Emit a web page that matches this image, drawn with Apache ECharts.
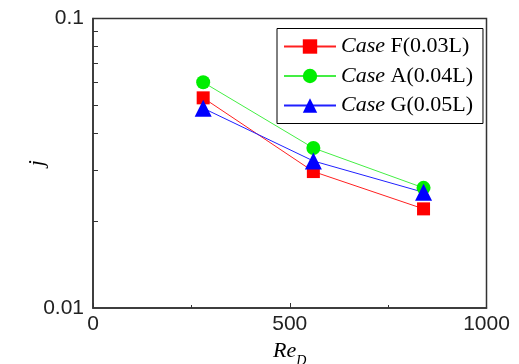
<!DOCTYPE html>
<html><head><meta charset="utf-8">
<script src="https://cdn.jsdelivr.net/npm/echarts@6/dist/echarts.min.js"></script>
<style>html,body{margin:0;padding:0;background:#fff}#c{width:519px;height:364px}</style>
</head><body><div id="c"></div>
<script>
var reD = [280, 560, 840];
var caseF = [0.0532, 0.0296, 0.0220];
var caseA = [0.0602, 0.0357, 0.0260];
var caseG = [0.0490, 0.0322, 0.0251];
var seriesNames = ['Case F(0.03L)', 'Case A(0.04L)', 'Case G(0.05L)'];
var yMinorTicks = [0.02,0.03,0.04,0.05,0.06,0.07,0.08,0.09];
var yLabels = [0.01, 0.1];
var xLabels = [0, 500, 1000];

function pts(arr){ return reD.map(function(x,i){return [x, arr[i]];}); }
var chart = echarts.init(document.getElementById('c'));
var serif = 'Liberation Serif';
var sans = 'Liberation Sans';
function mk(name, data, color, lineColor, symbol, size){
  return {name:name, type:'line', data:pts(data), symbol:symbol, symbolSize:size,
    lineStyle:{color:lineColor, width:1}, itemStyle:{color:color}, animation:false};
}
chart.setOption({
  animation:false,
  grid:{left:93, right:32.5, top:18.5, bottom:56, show:true, borderColor:'#333', borderWidth:1.5,
    backgroundColor:'transparent', containLabel:false, outerBoundsMode:'none'},
  legend:{
    orient:'vertical', left:277, top:28.5,
    padding:[7,10,7,6], itemGap:7.5, itemWidth:52, itemHeight:18,
    borderColor:'#000', borderWidth:1, backgroundColor:'#fff',
    data:seriesNames,
    formatter:function(n){ var p=n.split(' '); return '{i|'+p[0]+'} '+p.slice(1).join(' '); },
    textStyle:{fontFamily:serif, fontSize:22, color:'#000', lineHeight:21,
      rich:{i:{fontFamily:serif, fontStyle:'italic', fontSize:22, color:'#000', lineHeight:21}}}
  },
  xAxis:{type:'value', min:0, max:1000, interval:500,
    axisLine:{show:true, lineStyle:{color:'#333', width:1.5}},
    axisTick:{show:true, inside:true, length:5, lineStyle:{color:'#333'}},
    minorTick:{show:true, splitNumber:2, length:3, lineStyle:{color:'#333'}},
    splitLine:{show:false},
    axisLabel:{fontFamily:sans, fontSize:21, color:'#222', margin:6,
      formatter:function(v){ return xLabels.indexOf(v) >= 0 ? String(v) : ''; }},
    name:'{a|Re}{b|D}', nameLocation:'middle', nameGap:27, nameMoveOverlap:false,
    nameTextStyle:{rich:{a:{fontFamily:serif, fontStyle:'italic', fontSize:22, color:'#000'},
      b:{fontFamily:serif, fontStyle:'italic', fontSize:14, color:'#000', padding:[19,0,0,0]}}}
  },
  yAxis:[{type:'log', min:0.01, max:0.1, logBase:10,
    axisLine:{show:true, lineStyle:{color:'#333', width:1.5}},
    axisTick:{show:false},
    splitLine:{show:false},
    axisLabel:{fontFamily:sans, fontSize:21, color:'#222', margin:9,
      formatter:function(v){ return String(+v.toPrecision(3)); }},
    name:'j', nameLocation:'middle', nameGap:45, nameRotate:90, nameMoveOverlap:false,
    nameTextStyle:{fontFamily:serif, fontStyle:'italic', fontSize:22, color:'#000'}
  },{type:'value', min:-2, max:-1, position:'left', offset:0,
    axisLine:{show:false}, splitLine:{show:false}, axisLabel:{show:false},
    axisTick:{show:true, inside:true, length:5, lineStyle:{color:'#333'},
      customValues:yMinorTicks.map(function(v){return Math.log10(v);})}
  }],
  series:[
    mk(seriesNames[0], caseF, '#ff0000', '#ff2020', 'rect', 13),
    mk(seriesNames[1], caseA, '#00ee00', '#44ee44', 'circle', 14),
    mk(seriesNames[2], caseG, '#0000ff', '#2020ff', 'triangle', 17)
  ]
});
</script></body></html>
